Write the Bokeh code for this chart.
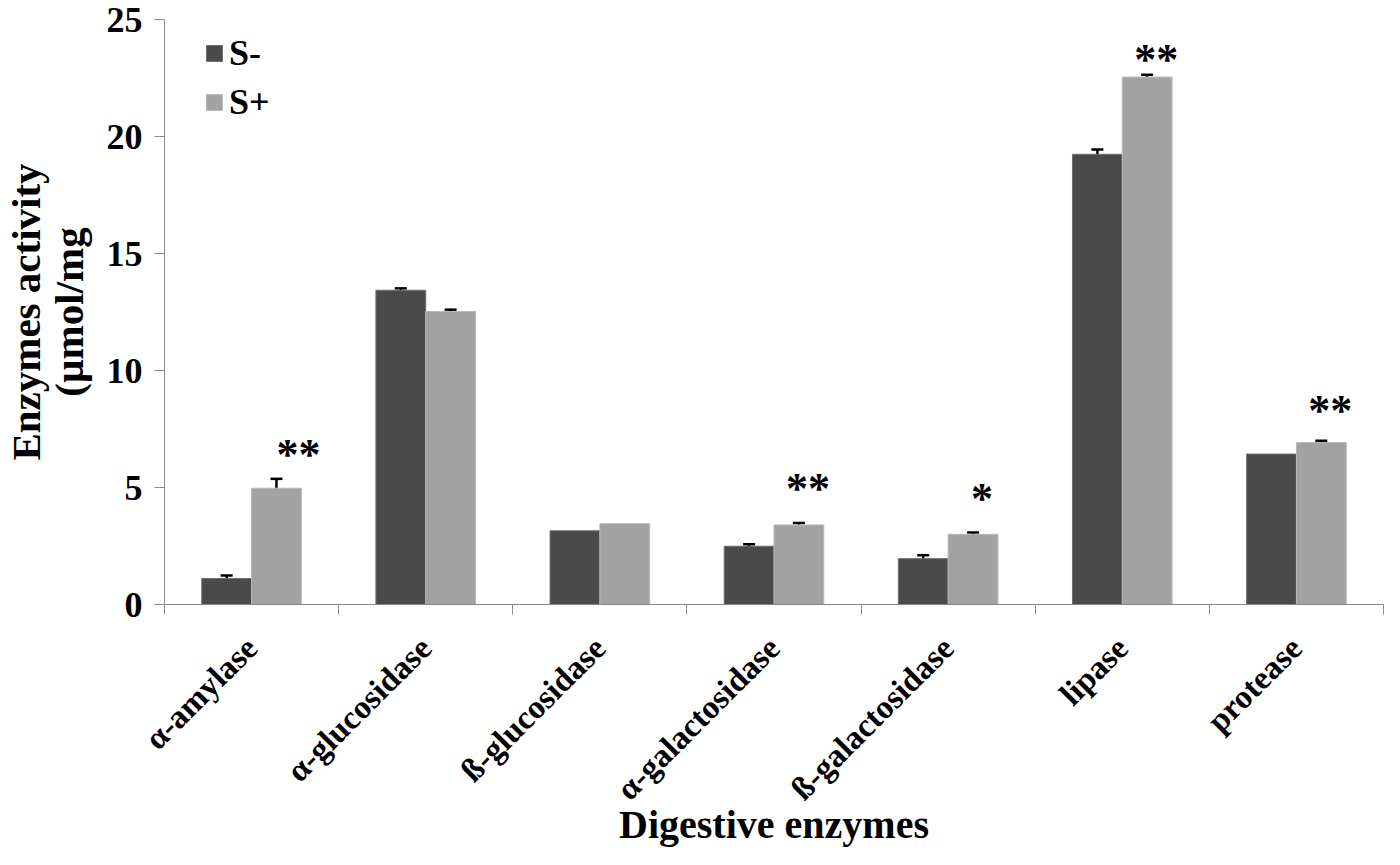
import math
from bokeh.plotting import figure
from bokeh.models import (ColumnDataSource, Range1d, LinearAxis, FixedTicker,
                          Whisker, TeeHead, Legend, LegendItem)
from bokeh.core.properties import value
from bokeh.embed import file_html
from bokeh.resources import INLINE

# ---- data ----
categories = ["α-amylase", "α-glucosidase", "ß-glucosidase", "α-galactosidase",
              "ß-galactosidase", "lipase", "protease"]
s_minus = [1.11, 13.43, 3.15, 2.49, 1.96, 19.24, 6.43]
s_minus_err = [0.13, 0.08, 0.0, 0.08, 0.15, 0.2, 0.0]
s_plus = [4.97, 12.52, 3.45, 3.40, 3.00, 22.54, 6.92]
s_plus_err = [0.4, 0.08, 0.0, 0.08, 0.08, 0.1, 0.08]
star_labels = ["**", "", "", "**", "*", "**", "**"]
star_y = [6.6, 0, 0, 5.14, 4.72, 23.47, 8.46]
y_ticks = [0, 5, 10, 15, 20, 25]
y_title = "Enzymes activity\n(µmol/mg"
x_title = "Digestive enzymes"

FONT = "Liberation Serif"
DARK = "#4a4a4a"
LIGHT = "#a2a2a2"
AXIS = "#8a8a8a"

n = len(categories)
centers = [i + 0.5 for i in range(n)]
bw = 0.286
xm = [c - bw / 2 for c in centers]
xp = [c + bw / 2 for c in centers]
star_dx = [22, 0, 0, 9, 9, 9, 9]  # screen nudges of the significance marks

BL, BR, BT, BB = 162, 1, 19, 245
W, H = 1384, 849
FH = H - BT - BB

p = figure(width=W, height=H, output_backend="svg", toolbar_location=None,
           x_range=Range1d(0, n), y_range=Range1d(0, 25),
           x_axis_location=None,
           min_border_left=BL, min_border_right=BR, min_border_top=BT,
           min_border_bottom=BB)
p.outline_line_color = None
p.grid.visible = False
p.background_fill_color = "white"

src_m = ColumnDataSource(dict(x=xm, top=s_minus))
src_p = ColumnDataSource(dict(x=xp, top=s_plus))
r_m = p.vbar(x="x", top="top", bottom=0, width=bw, source=src_m,
             fill_color=DARK, line_color="#6e6e6e", line_width=1)
r_p = p.vbar(x="x", top="top", bottom=0, width=bw, source=src_p,
             fill_color=LIGHT, line_color="#b8b8b8", line_width=1)

# error bars (only where an error exists)
ex, eu, el = [], [], []
for x, v, e in list(zip(xm, s_minus, s_minus_err)) + list(zip(xp, s_plus, s_plus_err)):
    if e > 0:
        ex.append(x); eu.append(v + e); el.append(v - e)
err_src = ColumnDataSource(dict(base=ex, upper=eu, lower=el))
wh = Whisker(source=err_src, base="base", upper="upper", lower="lower",
             line_color="black", line_width=2.5,
             upper_head=TeeHead(size=12, line_width=2.5, line_color="black"),
             lower_head=TeeHead(size=12, line_width=2.5, line_color="black"))
p.add_layout(wh)

# significance stars
sx, sy, st, sd = [], [], [], []
for x, y, t, d in zip(xp, star_y, star_labels, star_dx):
    if t:
        sx.append(x); sy.append(y); st.append(t); sd.append(d)
star_src = ColumnDataSource(dict(x=sx, y=sy, text=st, dx=sd))
p.text(x="x", y="y", text="text", x_offset="dx", source=star_src,
       text_font=value(FONT), text_font_style="bold",
       text_font_size="44px", text_align="center", text_baseline="middle",
       y_offset=4, text_color="black")

# y axis
ya = p.yaxis[0]
ya.ticker = FixedTicker(ticks=y_ticks)
ya.minor_tick_line_color = None
ya.major_tick_in = 0
ya.major_tick_out = 10
ya.axis_line_color = AXIS
ya.major_tick_line_color = AXIS
ya.major_label_text_font = FONT
ya.major_label_text_font_style = "bold"
ya.major_label_text_font_size = "36px"
ya.major_label_text_color = "black"
ya.major_label_standoff = 12
ya.axis_label = y_title
ya.axis_label_text_font = FONT
ya.axis_label_text_font_style = "bold"
ya.axis_label_text_font_size = "41px"
ya.axis_label_text_line_height = 0.92
ya.axis_label_standoff = 12
ya.axis_label_text_color = "black"

# x axis: boundary ticks
xa_ticks = LinearAxis(ticker=FixedTicker(ticks=list(range(n + 1))),
                      major_label_text_font_size="0px", major_label_standoff=0,
                      axis_line_color=AXIS, major_tick_line_color=AXIS,
                      major_tick_in=0, major_tick_out=10,
                      minor_tick_line_color=None)
xa_ticks.major_label_overrides = {i: "" for i in range(n + 1)}
p.add_layout(xa_ticks, "below")

# x axis: category labels + title
xa_lab = LinearAxis(ticker=FixedTicker(ticks=centers),
                    axis_line_color=None, major_tick_line_color=None,
                    minor_tick_line_color=None,
                    major_label_orientation=math.pi / 4,
                    major_label_text_font=FONT, major_label_text_font_style="bold",
                    major_label_text_font_size="33px",
                    major_label_text_color="black",
                    major_label_standoff=22,
                    axis_label=x_title,
                    axis_label_text_font=FONT, axis_label_text_font_style="bold",
                    axis_label_text_font_size="40px",
                    axis_label_text_color="black",
                    axis_label_standoff=-21)
xa_lab.major_label_overrides = {c: cat for c, cat in zip(centers, categories)}
p.add_layout(xa_lab, "below")

legend = Legend(items=[LegendItem(label="S-", renderers=[r_m]),
                       LegendItem(label="S+", renderers=[r_p])],
                location=(40, FH - 104),
                label_text_font=FONT, label_text_font_style="bold",
                label_text_font_size="36px", label_text_color="black",
                glyph_width=20, glyph_height=20, label_height=20,
                spacing=7, padding=0, margin=0,
                border_line_color=None, background_fill_alpha=0)
p.add_layout(legend)

open("out.html", "w").write(file_html(p, INLINE))
